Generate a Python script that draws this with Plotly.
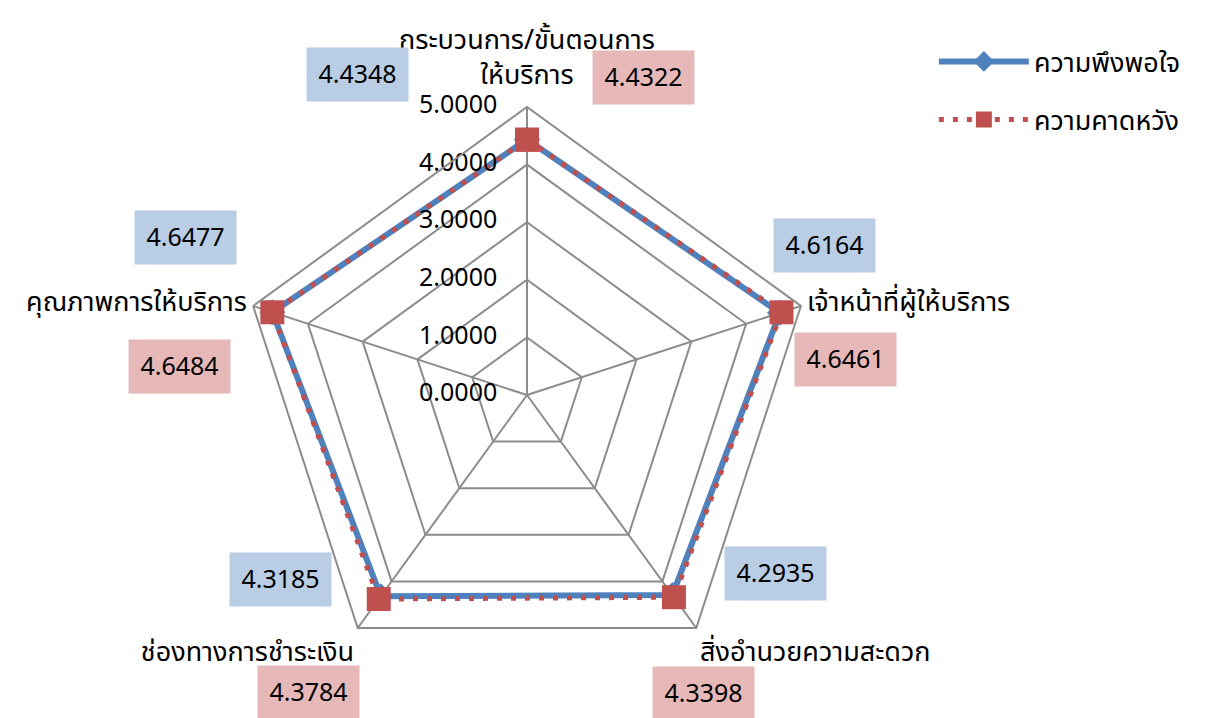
import plotly.graph_objects as go

categories = ["กระบวนการ/ขั้นตอนการ<br>ให้บริการ", "เจ้าหน้าที่ผู้ให้บริการ", "สิ่งอำนวยความสะดวก",
              "ช่องทางการชำระเงิน", "คุณภาพการให้บริการ"]
satisfaction = [4.4348, 4.6164, 4.2935, 4.3185, 4.6477]
expectation = [4.4322, 4.6461, 4.3398, 4.3784, 4.6484]
series_names = ["ความพึงพอใจ", "ความคาดหวัง"]
radial_ticks = [0, 1, 2, 3, 4, 5]

FONT = "Noto Sans Thai, Tahoma, Noto Sans, DejaVu Sans, sans-serif"
BLUE = "#4F81BD"
RED = "#C0504D"
BLUE_BOX = "#B9CDE5"
PINK_BOX = "#E6B9B8"
GRID = "#8C8C8C"

fig = go.Figure()
fig.add_trace(go.Scatterpolar(
    r=satisfaction + satisfaction[:1], theta=categories + categories[:1],
    mode="lines+markers", name=series_names[0], legendgroup="a",
    line=dict(color=BLUE, width=6),
    marker=dict(symbol="diamond", size=20, color=BLUE),
))
fig.add_trace(go.Scatterpolar(
    r=expectation + expectation[:1], theta=categories + categories[:1],
    mode="lines+markers", name=series_names[1], legendgroup="b",
    line=dict(color=RED, width=5, dash="5px,9px"),
    marker=dict(symbol="square", size=24, color=RED),
))
# radial tick labels, placed by the polar scale along the first spoke
# (the centre point is nudged out by a hair so plotly does not treat it as outside the range)
fig.add_trace(go.Scatterpolar(
    r=[max(v, 1e-4) for v in radial_ticks], theta=[categories[0]] * len(radial_ticks),
    mode="markers+text", text=[f"{v:.4f}" for v in radial_ticks],
    textposition="middle left", showlegend=False, hoverinfo="skip",
    cliponaxis=False,
    marker=dict(size=46, color="rgba(0,0,0,0)"),
    textfont=dict(family=FONT, size=25, color="#000000"),
))
# overlay polar used only to set the top category label a little further out
fig.add_trace(go.Scatterpolar(
    r=satisfaction, theta=categories, subplot="polar2", mode="markers",
    marker=dict(size=1, color="rgba(0,0,0,0)"), showlegend=False, hoverinfo="skip",
))

# data-label boxes (label positions in paper coordinates, values from data)
W, H = 1205, 718
blue_pos = [(357, 75), (824, 246), (775, 573), (280, 579), (185, 237)]
pink_pos = [(643, 77), (846, 359), (703, 693), (308, 692), (179, 366)]
annotations = []
for vals, pos, col in [(satisfaction, blue_pos, BLUE_BOX), (expectation, pink_pos, PINK_BOX)]:
    for v, (px, py) in zip(vals, pos):
        annotations.append(dict(
            x=px / W, y=1 - py / H, xref="paper", yref="paper",
            text=f"{v:.4f}", showarrow=False, bgcolor=col,
            width=97, height=49, borderpad=2,
            font=dict(family=FONT, size=25, color="#000000"),
            xanchor="center", yanchor="middle",
        ))

cx, cy, R = 527, 395, 288
domain = dict(x=[(cx - R) / W, (cx + R) / W], y=[1 - (cy + R) / H, 1 - (cy - R) / H])
fig.update_layout(
    width=W, height=H,
    margin=dict(l=0, r=0, t=0, b=0),
    paper_bgcolor="white", plot_bgcolor="white",
    font=dict(family=FONT, size=27, color="#000000"),
    polar=dict(
        domain=domain,
        bgcolor="white",
        gridshape="linear",
        radialaxis=dict(
            range=[0, 5], tickvals=radial_ticks, showticklabels=False,
            showline=False, ticks="", gridcolor=GRID, gridwidth=2,
        ),
        angularaxis=dict(
            rotation=90, direction="clockwise",
            tickmode="array", tickvals=categories, ticktext=[""] + categories[1:],
            gridcolor=GRID, gridwidth=2, linecolor=GRID, linewidth=2,
            ticks="", tickfont=dict(family=FONT, size=27, color="#000000"),
        ),
    ),
    polar2=dict(
        domain=domain,
        bgcolor="rgba(0,0,0,0)",
        gridshape="linear",
        radialaxis=dict(visible=False, range=[0, 5]),
        angularaxis=dict(
            rotation=90, direction="clockwise",
            categoryarray=categories, categoryorder="array",
            tickmode="array", tickvals=categories, ticktext=categories[:1] + [""] * 4,
            showgrid=False, showline=False,
            ticks="outside", ticklen=12, tickcolor="rgba(0,0,0,0)",
            tickfont=dict(family=FONT, size=27, color="#000000"),
        ),
    ),
    showlegend=True,
    legend=dict(x=0.775, y=0.948, xanchor="left", yanchor="top",
                font=dict(family=FONT, size=27, color="#000000"),
                itemwidth=90, tracegroupgap=20, bgcolor="rgba(0,0,0,0)"),
    annotations=annotations,
)

fig.write_html("out.html")
